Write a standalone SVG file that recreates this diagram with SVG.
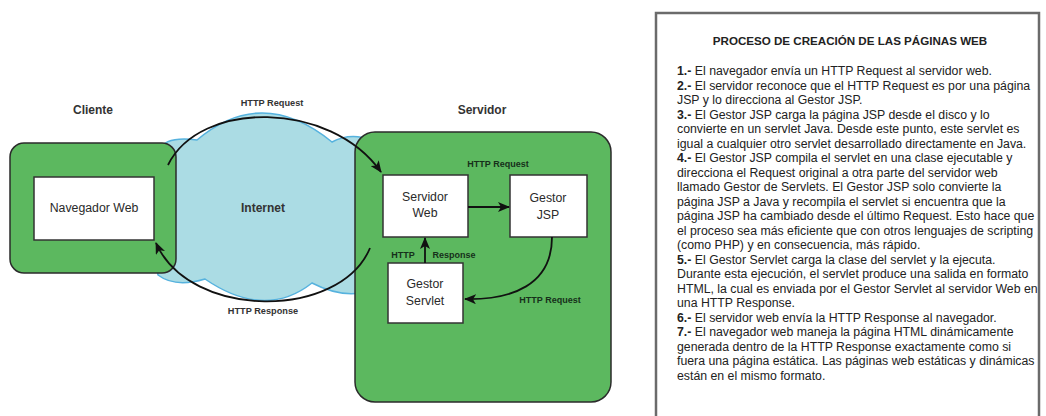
<svg xmlns="http://www.w3.org/2000/svg" width="1046" height="416" viewBox="0 0 1046 416">
<defs>
<marker id="ah" viewBox="0 0 12 10" refX="11" refY="5" markerWidth="12" markerHeight="10" orient="auto" markerUnits="userSpaceOnUse"><path d="M0,0 L12,5 L0,10 L3,5 z" fill="#111"/></marker>
</defs>
<style>
.green{fill:#5cb85f;stroke:#2b2b2b;stroke-width:1.5}
.box{fill:#fff;stroke:#333;stroke-width:1.5}
.lbl{font-family:"Liberation Sans",Arial,sans-serif;font-weight:bold;font-size:12px;fill:#333;text-anchor:middle}
.small{font-family:"Liberation Sans",Arial,sans-serif;font-weight:bold;font-size:9.2px;fill:#333;text-anchor:middle}
.smallg{font-family:"Liberation Sans",Arial,sans-serif;font-weight:bold;font-size:9px;fill:#16301a;text-anchor:middle}
.bt{font-family:"Liberation Sans",Arial,sans-serif;font-size:12.3px;fill:#2a2a2a;text-anchor:middle}
.conn{fill:none;stroke:#111;stroke-width:1.8}
.body{font-family:"Liberation Sans",Arial,sans-serif;font-size:12.3px;fill:#222}
.body tspan.n{font-weight:bold}
</style>
<rect width="1046" height="416" fill="#fff"/>

<g id="internet">
<path d="M160,150 Q165,136 197,140 Q262,85 332,142 Q350,132 372,140 L372,290 Q345,300 312,283 Q265,320 205,279 Q175,288 158,275 Q146,212 160,150 Z" fill="#abdce4" stroke="#56b2de" stroke-width="1.5"/>
<text class="lbl" x="263" y="212">Internet</text>
</g>

<g id="cliente">
<text class="lbl" x="93" y="114">Cliente</text>
<rect class="green" x="10" y="143" width="166" height="130" rx="14"/>
</g>
<g id="navegador">
<rect class="box" x="34" y="177" width="120" height="63"/>
<text class="bt" x="94" y="212">Navegador Web</text>
</g>

<g id="servidor">
<text class="lbl" x="482" y="114">Servidor</text>
<rect class="green" x="355" y="132" width="256" height="270" rx="20"/>
</g>
<g id="servidor-web">
<rect class="box" x="383" y="175" width="85" height="62"/>
<text class="bt" x="425" y="201">Servidor</text>
<text class="bt" x="425" y="217">Web</text>
</g>
<g id="gestor-jsp">
<rect class="box" x="510" y="175" width="77" height="62"/>
<text class="bt" x="548" y="202">Gestor</text>
<text class="bt" x="548" y="219">JSP</text>
</g>
<g id="gestor-servlet">
<rect class="box" x="388" y="263" width="75" height="60"/>
<text class="bt" x="425" y="288">Gestor</text>
<text class="bt" x="425" y="305">Servlet</text>
</g>

<g id="connectors">
<path class="conn" d="M168,165 C200,100 330,100 381,172" marker-end="url(#ah)"/>
<path class="conn" d="M370,248 C340,320 190,320 156,243" marker-end="url(#ah)"/>
<path class="conn" d="M468,207 L509,207" marker-end="url(#ah)"/>
<path class="conn" d="M425,263 L425,238" marker-end="url(#ah)"/>
<path class="conn" d="M552,237 C552,285 512,300 465,299" marker-end="url(#ah)"/>
<text class="small" x="272" y="106">HTTP Request</text>
<text class="small" x="263" y="314">HTTP Response</text>
<text class="smallg" x="498" y="167">HTTP Request</text>
<text class="smallg" x="403" y="258">HTTP</text>
<text class="smallg" x="454" y="258">Response</text>
<text class="smallg" x="550" y="303">HTTP Request</text>
</g>

<g id="panel">
<rect x="656" y="13" width="383" height="420" fill="#fff" stroke="#6b6b6b" stroke-width="2.5"/>
<text x="850" y="45" font-family="Liberation Sans, Arial, sans-serif" font-weight="bold" font-size="11.6" fill="#222" text-anchor="middle">PROCESO DE CREACIÓN DE LAS PÁGINAS WEB</text>
<text class="body" x="677" y="75"><tspan class="n">1.-</tspan> El navegador envía un HTTP Request al servidor web.</text>
<text class="body" x="677" y="89.5"><tspan class="n">2.-</tspan> El servidor reconoce que el HTTP Request es por una página</text>
<text class="body" x="677" y="104">JSP y lo direcciona al Gestor JSP.</text>
<text class="body" x="677" y="118.5"><tspan class="n">3.-</tspan> El Gestor JSP carga la página JSP desde el disco y lo</text>
<text class="body" x="677" y="133">convierte en un servlet Java. Desde este punto, este servlet es</text>
<text class="body" x="677" y="147.5">igual a cualquier otro servlet desarrollado directamente en Java.</text>
<text class="body" x="677" y="162"><tspan class="n">4.-</tspan> El Gestor JSP compila el servlet en una clase ejecutable y</text>
<text class="body" x="677" y="176.5">direcciona el Request original a otra parte del servidor web</text>
<text class="body" x="677" y="191">llamado Gestor de Servlets. El Gestor JSP solo convierte la</text>
<text class="body" x="677" y="205.5">página JSP a Java y recompila el servlet si encuentra que la</text>
<text class="body" x="677" y="220">página JSP ha cambiado desde el último Request. Esto hace que</text>
<text class="body" x="677" y="234.5">el proceso sea más eficiente que con otros lenguajes de scripting</text>
<text class="body" x="677" y="249">(como PHP) y en consecuencia, más rápido.</text>
<text class="body" x="677" y="263.5"><tspan class="n">5.-</tspan> El Gestor Servlet carga la clase del servlet y la ejecuta.</text>
<text class="body" x="677" y="278">Durante esta ejecución, el servlet produce una salida en formato</text>
<text class="body" x="677" y="292.5">HTML, la cual es enviada por el Gestor Servlet al servidor Web en</text>
<text class="body" x="677" y="307">una HTTP Response.</text>
<text class="body" x="677" y="321.5"><tspan class="n">6.-</tspan> El servidor web envía la HTTP Response al navegador.</text>
<text class="body" x="677" y="336"><tspan class="n">7.-</tspan> El navegador web maneja la página HTML dinámicamente</text>
<text class="body" x="677" y="350.5">generada dentro de la HTTP Response exactamente como si</text>
<text class="body" x="677" y="365">fuera una página estática. Las páginas web estáticas y dinámicas</text>
<text class="body" x="677" y="379.5">están en el mismo formato.</text>
</g>
</svg>
